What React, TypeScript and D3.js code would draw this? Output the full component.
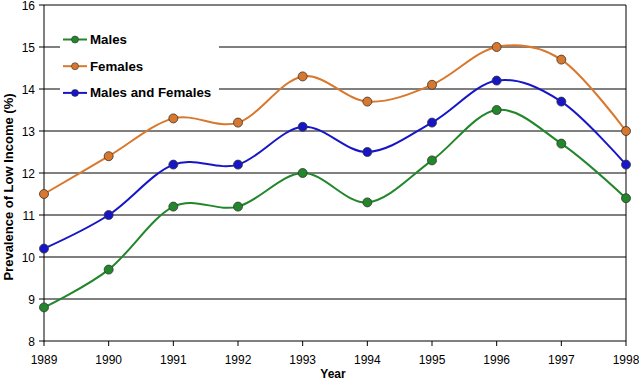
import React from "react";
import * as d3 from "d3";

const years = [1989, 1990, 1991, 1992, 1993, 1994, 1995, 1996, 1997, 1998];
const males = [8.8, 9.7, 11.2, 11.2, 12.0, 11.3, 12.3, 13.5, 12.7, 11.4];
const females = [11.5, 12.4, 13.3, 13.2, 14.3, 13.7, 14.1, 15.0, 14.7, 13.0];
const both = [10.2, 11.0, 12.2, 12.2, 13.1, 12.5, 13.2, 14.2, 13.7, 12.2];
const seriesNames = ["Males", "Females", "Males and Females"];
const seriesColors = ["#22862a", "#d9782c", "#1616c8"];
const yTicks = [8, 9, 10, 11, 12, 13, 14, 15, 16];

export default function App() {
  const W = 639, H = 381;
  const left = 44, right = 626, top = 5, bottom = 341;
  const x = d3.scaleLinear().domain([1989, 1998]).range([left, right]);
  const y = d3.scaleLinear().domain([8, 16]).range([bottom, top]);
  const line = d3
    .line<number>()
    .x((_, i) => x(years[i]))
    .y((d) => y(d))
    .curve(d3.curveCatmullRom.alpha(0));
  const data = [males, females, both];
  const font = "'Liberation Sans', Arial, sans-serif";
  return (
    <svg
      width={W}
      height={H}
      style={{ position: "absolute", left: 0, top: 0, background: "#fff" }}
      fontFamily={font}
    >
      <rect x={0} y={0} width={W} height={H} fill="#fff" />
      {yTicks.map((t) => (
        <g key={t}>
          {t > 8 && t < 16 && (
            <line x1={left} x2={right} y1={y(t)} y2={y(t)} stroke="#000" strokeWidth={1} />
          )}
          <line x1={left - 5} x2={left} y1={y(t)} y2={y(t)} stroke="#000" />
          <text x={35} y={y(t) + 4.5} textAnchor="end" fontSize={12}>
            {t}
          </text>
        </g>
      ))}
      <line x1={left} x2={right} y1={top} y2={top} stroke="#000" />
      <line x1={right} x2={right} y1={top} y2={bottom} stroke="#000" />
      <line x1={left} x2={left} y1={top} y2={bottom + 0.5} stroke="#000" />
      <line x1={left} x2={right} y1={bottom} y2={bottom} stroke="#000" />
      {years.map((yr) => (
        <g key={yr}>
          <line x1={x(yr)} x2={x(yr)} y1={bottom} y2={bottom + 5} stroke="#000" />
          <text x={x(yr)} y={364} textAnchor="middle" fontSize={12}>
            {yr}
          </text>
        </g>
      ))}
      <text x={333} y={378} textAnchor="middle" fontSize={12} fontWeight="bold">
        Year
      </text>
      <text
        transform={`translate(13, 187) rotate(-90)`}
        textAnchor="middle"
        fontSize={13}
        fontWeight="bold"
      >
        Prevalence of Low Income (%)
      </text>
      {data.map((s, k) => (
        <g key={k}>
          <path d={line(s) || ""} fill="none" stroke={seriesColors[k]} strokeWidth={2} />
          {s.map((v, i) => (
            <circle
              key={i}
              cx={x(years[i])}
              cy={y(v)}
              r={4.5}
              fill={seriesColors[k]}
              stroke="#333"
              strokeWidth={0.8}
            />
          ))}
        </g>
      ))}
      <rect x={60} y={22} width={159} height={82} fill="#fff" />
      {seriesNames.map((n, k) => {
        const ly = 39.5 + k * 26.7;
        return (
          <g key={n}>
            <line x1={63} x2={87} y1={ly} y2={ly} stroke={seriesColors[k]} strokeWidth={2} />
            <circle cx={75} cy={ly} r={3.5} fill={seriesColors[k]} stroke="#333" strokeWidth={0.6} />
            <text x={90} y={ly + 4.5} fontSize={13.3} fontWeight="bold">
              {n}
            </text>
          </g>
        );
      })}
    </svg>
  );
}
